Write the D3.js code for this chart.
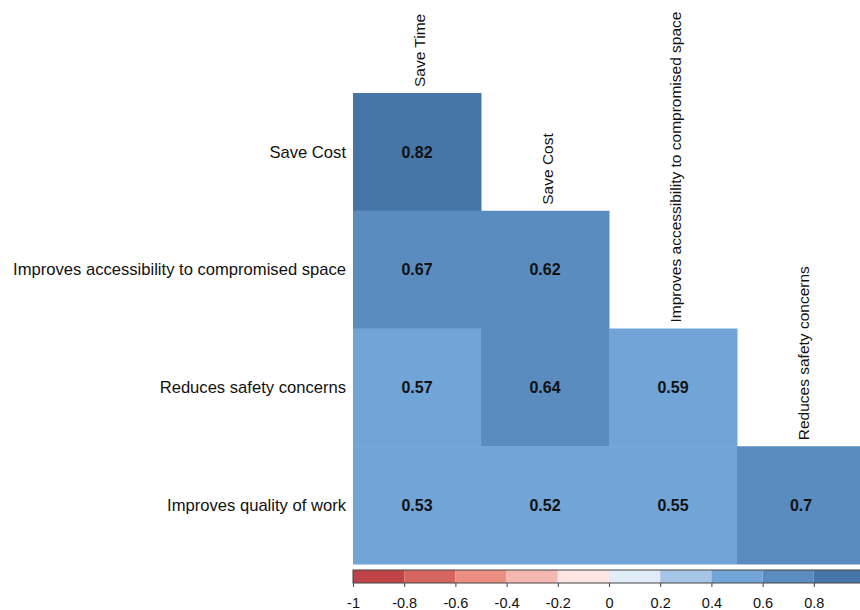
<!DOCTYPE html>
<html><head><meta charset="utf-8">
<script src="https://cdn.jsdelivr.net/npm/d3@7"></script>
<style>body{margin:0;background:#fff}svg{display:block}</style>
</head><body>
<svg id="c" width="860" height="610"></svg>
<script>
const rowLabels = ["Save Cost","Improves accessibility to compromised space","Reduces safety concerns","Improves quality of work"];
const colLabels = ["Save Time","Save Cost","Improves accessibility to compromised space","Reduces safety concerns"];
const values = [
  [0.82],
  [0.67, 0.62],
  [0.57, 0.64, 0.59],
  [0.53, 0.52, 0.55, 0.7]
];
const legendBreaks = [-1,-0.8,-0.6,-0.4,-0.2,0,0.2,0.4,0.6,0.8,1];
const legendTickLabels = [-1,-0.8,-0.6,-0.4,-0.2,0,0.2,0.4,0.6,0.8];
const binColors = ["#bf4447","#d5665f","#eb8f82","#f4b8b0","#fde6e4","#e0ecf7","#a7c6e7","#71a5d7","#5a8cc0","#4676a8"];

const svg = d3.select("#c");
const font = "Liberation Sans, Arial, sans-serif";
const x = d3.scaleBand().domain(colLabels.map((d,i)=>i)).range([353,865]);
const y = d3.scaleBand().domain(rowLabels.map((d,i)=>i)).range([93,564]);
const color = d3.scaleThreshold().domain(legendBreaks.slice(1,-1)).range(binColors);

const cells = [];
values.forEach((row,i)=>row.forEach((v,j)=>cells.push({i,j,v})));

svg.selectAll("rect.cell").data(cells).join("rect")
  .attr("x",d=>x(d.j)).attr("y",d=>y(d.i))
  .attr("width",x.bandwidth()+0.5).attr("height",y.bandwidth()+0.5)
  .attr("fill",d=>color(d.v));

svg.selectAll("text.val").data(cells).join("text")
  .attr("x",d=>x(d.j)+x.bandwidth()/2).attr("y",d=>y(d.i)+y.bandwidth()/2)
  .attr("dy","0.36em").attr("text-anchor","middle")
  .attr("font-family",font).attr("font-weight","bold").attr("font-size",16).attr("fill","#111")
  .text(d=>String(d.v));

svg.selectAll("text.row").data(rowLabels).join("text")
  .attr("x",346).attr("y",(d,i)=>y(i)+y.bandwidth()/2)
  .attr("dy","0.35em").attr("text-anchor","end")
  .attr("font-family",font).attr("font-size",16.6).attr("fill","#111")
  .text(d=>d);

svg.selectAll("text.col").data(colLabels).join("text")
  .attr("transform",(d,j)=>`translate(${x(j)+x.bandwidth()/2+3},${y(j)-6}) rotate(-90)`)
  .attr("dy","0.35em").attr("text-anchor","start")
  .attr("font-family",font).attr("font-size",15.5).attr("fill","#111")
  .text(d=>d);

// legend
const lx = d3.scaleLinear().domain([-1,1]).range([353,865]);
const lg = svg.append("g");
lg.selectAll("rect").data(binColors).join("rect")
  .attr("x",(d,i)=>lx(legendBreaks[i])).attr("y",570)
  .attr("width",(d,i)=>lx(legendBreaks[i+1])-lx(legendBreaks[i])).attr("height",13)
  .attr("fill",d=>d);
lg.append("rect").attr("x",lx(-1)).attr("y",570).attr("width",lx(1)-lx(-1)).attr("height",13)
  .attr("fill","none").attr("stroke","#444").attr("stroke-width",1);
const axis = d3.axisBottom(lx).tickValues(legendTickLabels).tickSize(4).tickFormat(d=>String(d));
const ag = lg.append("g").attr("transform","translate(0,583)").call(axis);
ag.select(".domain").remove();
ag.selectAll("line").attr("stroke","#444");
ag.selectAll("text").attr("font-family",font).attr("font-size",14.5).attr("fill","#111").attr("y",0).attr("dy","1.7em");
</script>
</body></html>
